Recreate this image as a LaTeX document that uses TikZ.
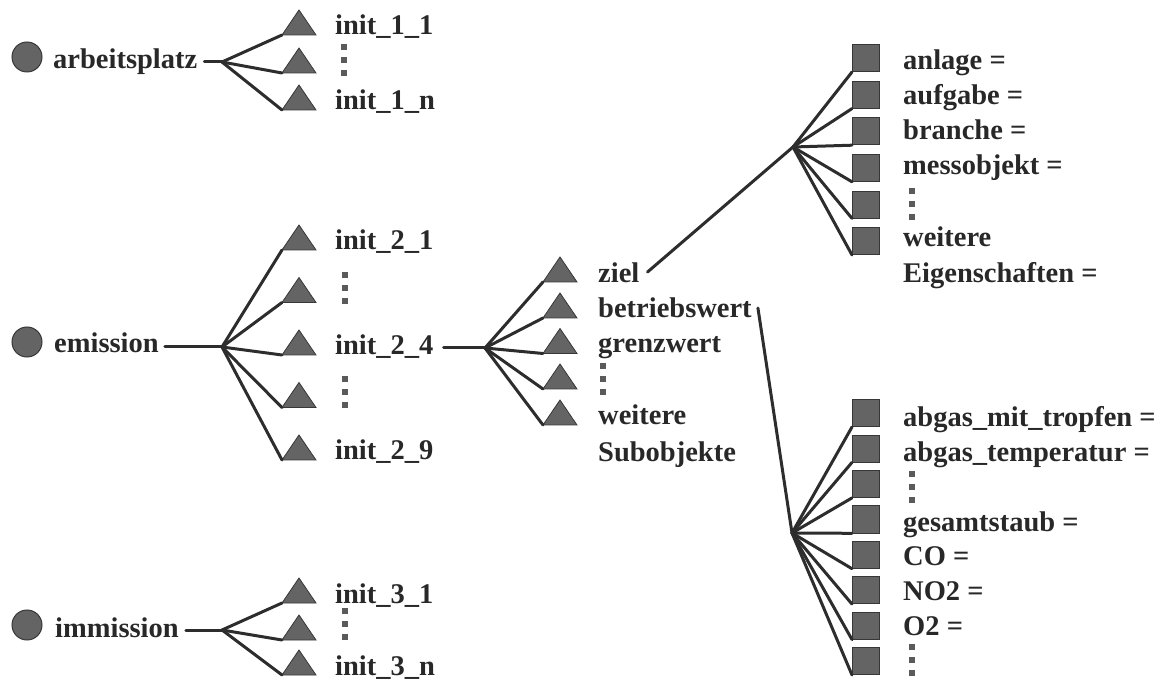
\documentclass[tikz,border=0pt]{standalone}
\usepackage{fontspec}
\setmainfont{Liberation Serif}
\usetikzlibrary{calc}
\definecolor{txt}{RGB}{40,40,40}
\definecolor{wirec}{RGB}{45,45,45}
\definecolor{shapefill}{RGB}{100,100,100}
\definecolor{shapeedge}{RGB}{55,55,55}
\definecolor{dotc}{RGB}{90,90,90}
\begin{document}
\begin{tikzpicture}[x=1pt,y=-1pt,
  every node/.style={inner sep=0pt, text=txt},
  lbl/.style={anchor=base west, font=\fontsize{28.5}{34}\selectfont\bfseries},
  wire/.style={draw=wirec, line width=3pt, line join=round, line cap=round},
  circ/.style={circle, minimum size=30pt, fill=shapefill, draw=shapeedge, line width=1pt},
  sq/.style={rectangle, minimum size=27pt, fill=shapefill, draw=shapeedge, line width=0.8pt, anchor=south west},
  tri/.pic={\filldraw[fill=shapefill, draw=shapeedge, line width=0.8pt] (0,0) -- (34,0) -- (17,-25) -- cycle;
            \coordinate (-bl) at (0,0);},
  vdots/.pic={\foreach \k in {0,1,2}
            \filldraw[fill=dotc, draw=dotc] (-2.5,-13*\k-2.5) rectangle (2.5,-13*\k+2.5);}
]
\useasboundingbox (0,0) rectangle (1168,684);

% ---- arbeitsplatz ----
\node[circ] (c1) at (27,57) {};
\node[lbl] (arb) at (53,69) {arbeitsplatz};
\coordinate (f1) at (222,62);
\pic (t11) at (282,35) {tri};
\pic (t12) at (282,73) {tri};
\pic (t13) at (282,110) {tri};
\node[lbl] (i11) at (335,35) {init\_1\_1};
\pic at (344,73) {vdots};
\node[lbl] (i1n) at (335,110) {init\_1\_n};
\coordinate (arbE) at ($(arb.east)+(7,0)$);
\draw[wire] (arbE |- f1) -- (f1);
\foreach \t in {t11,t12,t13} \draw[wire] (f1) -- (\t-bl);

% ---- emission ----
\node[circ] (c2) at (27,342) {};
\node[lbl] (emi) at (54,353) {emission};
\coordinate (f2) at (222,347);
\pic (t21) at (282,250) {tri};
\pic (t22) at (282,302.5) {tri};
\pic (t23) at (282,355) {tri};
\pic (t24) at (282,407.5) {tri};
\pic (t25) at (282,460) {tri};
\node[lbl] (i21) at (335,250) {init\_2\_1};
\pic at (345,301) {vdots};
\node[lbl] (i24) at (335,355) {init\_2\_4};
\pic at (345,405) {vdots};
\node[lbl] (i29) at (335,460) {init\_2\_9};
\coordinate (emiE) at ($(emi.east)+(6,0)$);
\draw[wire] (emiE |- f2) -- (f2);
\foreach \t in {t21,t22,t23,t24,t25} \draw[wire] (f2) -- (\t-bl);

% ---- immission ----
\node[circ] (c3) at (27,625) {};
\node[lbl] (imm) at (55,637) {immission};
\coordinate (f3) at (222,630);
\pic (t31) at (282,603) {tri};
\pic (t32) at (282,640) {tri};
\pic (t33) at (282,675) {tri};
\node[lbl] (i31) at (335,603) {init\_3\_1};
\pic at (345,637) {vdots};
\node[lbl] (i3n) at (335,675) {init\_3\_n};
\coordinate (immE) at ($(imm.east)+(7,0)$);
\draw[wire] (immE |- f3) -- (f3);
\foreach \t in {t31,t32,t33} \draw[wire] (f3) -- (\t-bl);

% ---- subobjects of init_2_4 ----
\coordinate (f4) at (485,348);
\pic (u1) at (543,282) {tri};
\pic (u2) at (543,318) {tri};
\pic (u3) at (543,353.5) {tri};
\pic (u4) at (543,389) {tri};
\pic (u5) at (543,425) {tri};
\node[lbl] (ziel) at (598,283) {ziel};
\node[lbl] (bw) at (598,318) {betriebswert};
\node[lbl] (gw) at (598,353) {grenzwert};
\pic at (603,392) {vdots};
\node[lbl] (wsub) at (598,425) {weitere};
\node[lbl] (subo) at (598,462) {Subobjekte};
\coordinate (i24E) at ($(i24.east)+(10,0)$);
\draw[wire] (i24E |- f4) -- (f4);
\foreach \t in {u1,u2,u3,u4,u5} \draw[wire] (f4) -- (\t-bl);

% ---- properties of ziel ----
\coordinate (f5) at (793,147);
\coordinate (zielE) at ($(ziel.base east)+(8,-11)$);
\draw[wire] (zielE) -- (f5);
\node[sq] (q1) at (852,72) {};
\node[sq] (q2) at (852,108.6) {};
\node[sq] (q3) at (852,145.2) {};
\node[sq] (q4) at (852,181.8) {};
\node[sq] (q5) at (852,218.4) {};
\node[sq] (q6) at (852,255) {};
\foreach \q in {q1,q2,q3,q4,q5,q6} \draw[wire] (f5) -- (\q.south west);
\node[lbl] (p1) at (903,70) {anlage =};
\node[lbl] (p2) at (903,105) {aufgabe =};
\node[lbl] (p3) at (903,140) {branche =};
\node[lbl] (p4) at (903,175) {messobjekt =};
\pic at (912,217) {vdots};
\node[lbl] (p5) at (903,247) {weitere};
\node[lbl] (p6) at (903,283) {Eigenschaften =};

% ---- properties of betriebswert ----
\coordinate (f6) at (792,533);
\coordinate (bwE) at ($(bw.base east)+(6,-10)$);
\draw[wire] (bwE) -- (f6);
\node[sq] (r1) at (852,427) {};
\node[sq] (r2) at (852,462.4) {};
\node[sq] (r3) at (852,497.9) {};
\node[sq] (r4) at (852,533.3) {};
\node[sq] (r5) at (852,568.7) {};
\node[sq] (r6) at (852,604.1) {};
\node[sq] (r7) at (852,639.6) {};
\node[sq] (r8) at (852,675) {};
\foreach \q in {r1,r2,r3,r4,r5,r6,r7,r8} \draw[wire] (f6) -- (\q.south west);
\node[lbl] (v1) at (903,427) {abgas\_mit\_tropfen =};
\node[lbl] (v2) at (903,462) {abgas\_temperatur =};
\pic at (912,500) {vdots};
\node[lbl] (v3) at (903,532) {gesamtstaub =};
\node[lbl] (v4) at (903,565) {CO =};
\node[lbl] (v5) at (903,600) {NO2 =};
\node[lbl] (v6) at (903,635) {O2 =};
\pic at (912,673) {vdots};
\end{tikzpicture}
\end{document}
